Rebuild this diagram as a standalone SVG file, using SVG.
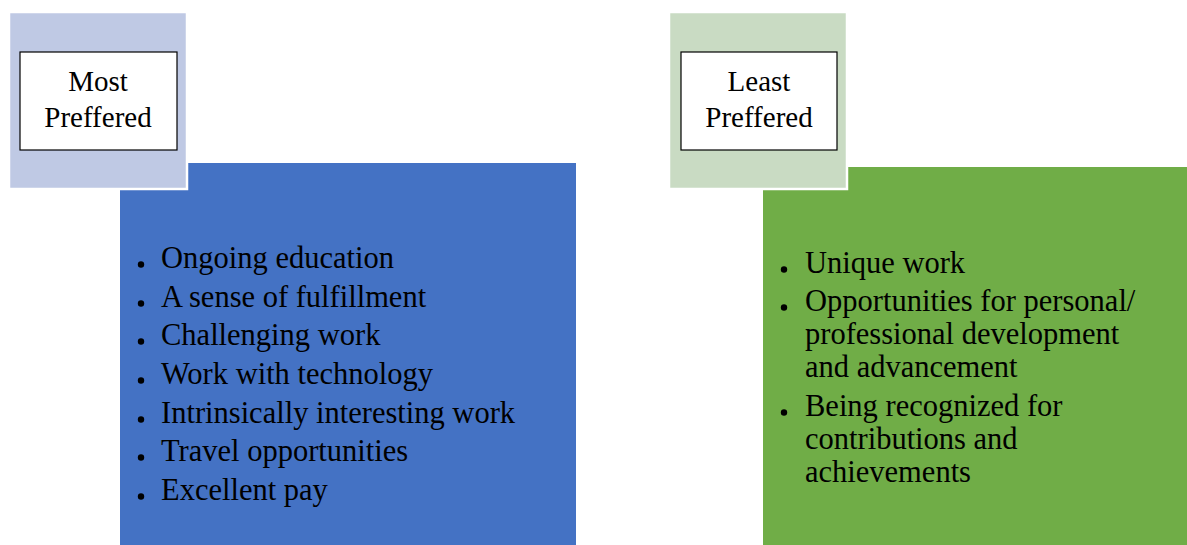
<svg xmlns="http://www.w3.org/2000/svg" width="1187" height="545" viewBox="0 0 1187 545">
<style>
.t{font-family:"Liberation Serif","Times New Roman",serif;fill:#000}
.h{font-size:29px;text-anchor:middle}
.b{font-size:30.5px}
.lbl{fill:#fff;stroke:#000;stroke-width:1.2}
.back{stroke:#fff;stroke-width:2.5}
</style>
<rect width="1187" height="545" fill="#fff"/>
<g id="most">
<rect x="120" y="163" width="456" height="382" fill="#4472C4"/>
<rect class="back" x="9" y="12" width="178" height="177" fill="#BFC9E4"/>
<rect class="lbl" x="20" y="52" width="157" height="98"/>
<text class="t h" x="98" y="91">Most</text>
<text class="t h" x="98" y="127">Preffered</text>
<g fill="#000">
<circle cx="141" cy="264.5" r="3.2"/><circle cx="141" cy="303.5" r="3.2"/><circle cx="141" cy="341.5" r="3.2"/><circle cx="141" cy="380.5" r="3.2"/><circle cx="141" cy="419.5" r="3.2"/><circle cx="141" cy="457.5" r="3.2"/><circle cx="141" cy="496.5" r="3.2"/>
</g>
<text class="t b" x="161" y="267.5">Ongoing education</text>
<text class="t b" x="161" y="306.5">A sense of fulfillment</text>
<text class="t b" x="161" y="344.5">Challenging work</text>
<text class="t b" x="161" y="383.5">Work with technology</text>
<text class="t b" x="161" y="422.5">Intrinsically interesting work</text>
<text class="t b" x="161" y="460.5">Travel opportunities</text>
<text class="t b" x="161" y="499.5">Excellent pay</text>
</g>
<g id="least">
<rect x="763" y="167" width="424" height="378" fill="#70AD47"/>
<rect class="back" x="669" y="12" width="178" height="177" fill="#C9DBC3"/>
<rect class="lbl" x="681" y="52" width="156" height="98"/>
<text class="t h" x="759" y="91">Least</text>
<text class="t h" x="759" y="127">Preffered</text>
<g fill="#000">
<circle cx="784" cy="269.5" r="3.2"/><circle cx="784" cy="307.5" r="3.2"/><circle cx="784" cy="412.5" r="3.2"/>
</g>
<text class="t b" x="805" y="272.5">Unique work</text>
<text class="t b" x="805" y="310.5">Opportunities for personal/</text>
<text class="t b" x="805" y="343.5">professional development</text>
<text class="t b" x="805" y="376.5">and advancement</text>
<text class="t b" x="805" y="415.5">Being recognized for</text>
<text class="t b" x="805" y="448.5">contributions and</text>
<text class="t b" x="805" y="481.5">achievements</text>
</g>
<g id="connectors"/>
</svg>
